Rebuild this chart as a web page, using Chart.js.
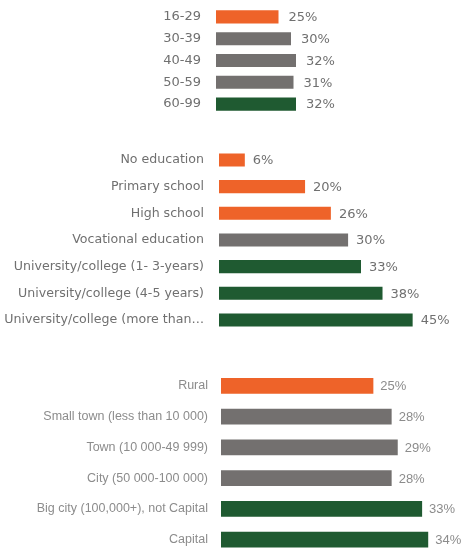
<!DOCTYPE html>
<html>
<head>
<meta charset="utf-8">
<script src="https://cdn.jsdelivr.net/npm/chart.js@4"></script>
<style>
  body { margin: 0; background: #fff; width: 475px; height: 555px; position: relative; overflow: hidden; }
  canvas { position: absolute; left: 0; }
</style>
</head>
<body>
<canvas id="age" width="475" height="125" style="top:0px"></canvas>
<canvas id="edu" width="475" height="205" style="top:135px"></canvas>
<canvas id="place" width="475" height="200" style="top:355px"></canvas>
<script>
// Age groups
const ageLabels = ['16-29', '30-39', '40-49', '50-59', '60-99'];
const ageValues = [25, 30, 32, 31, 32];
const ageColors = ['orange', 'grey', 'grey', 'grey', 'green'];

// Education
const eduLabels = ['No education', 'Primary school', 'High school', 'Vocational education',
    'University/college (1- 3-years)', 'University/college (4-5 years)', 'University/college (more than…'];
const eduValues = [6, 20, 26, 30, 33, 38, 45];
const eduColors = ['orange', 'orange', 'orange', 'grey', 'green', 'green', 'green'];

// Place of residence
const placeLabels = ['Rural', 'Small town (less than 10 000)', 'Town (10 000-49 999)',
    'City (50 000-100 000)', 'Big city (100,000+), not Capital', 'Capital'];
const placeValues = [25, 28, 29, 28, 33, 34];
const placeColors = ['orange', 'grey', 'grey', 'grey', 'green', 'green'];

const palette = { orange: '#ee6329', grey: '#73706f', green: '#1f5a31' };

// draws the "NN%" next to each bar
const valueLabels = {
    id: 'valueLabels',
    afterDatasetsDraw(chart) {
        const ctx = chart.ctx;
        const meta = chart.getDatasetMeta(0);
        const opts = chart.options.plugins.valueLabels;
        ctx.save();
        ctx.font = opts.font;
        ctx.fillStyle = opts.color;
        ctx.textBaseline = 'middle';
        meta.data.forEach((bar, i) => {
            ctx.fillText(chart.data.datasets[0].data[i] + '%', bar.x + opts.gap, bar.y + 1);
        });
        ctx.restore();
    }
};

function makeChart(id, labels, values, colors, cfg) {
    return new Chart(document.getElementById(id), {
        type: 'bar',
        data: {
            labels: labels,
            datasets: [{
                data: values,
                backgroundColor: colors.map(c => palette[c]),
                barPercentage: cfg.barPct,
                categoryPercentage: 1
            }]
        },
        options: {
            indexAxis: 'y',
            responsive: false,
            animation: false,
            layout: { padding: { top: cfg.top, bottom: cfg.bottom, left: 0, right: 475 - 466 } },
            scales: {
                x: { display: false, min: 0, max: cfg.max },
                y: {
                    grid: { display: false, tickLength: 8 },
                    border: { display: false },
                    ticks: {
                        color: cfg.labelColor,
                        padding: cfg.pad,
                        font: { family: cfg.family, size: cfg.fontSize }
                    },
                    afterFit(scale) {
                        scale.width = cfg.left;
                        scale.paddingTop = 0;
                        scale.paddingBottom = 0;
                    }
                }
            },
            plugins: {
                legend: { display: false },
                tooltip: { enabled: false },
                valueLabels: {
                    font: cfg.valueSize + 'px ' + cfg.family,
                    color: cfg.labelColor,
                    gap: cfg.gap
                }
            }
        },
        plugins: [valueLabels]
    });
}

const dejavu = '"DejaVu Sans", sans-serif';
const liberation = '"Liberation Sans", Arial, sans-serif';

makeChart('age', ageLabels, ageValues, ageColors,
    { left: 216, max: 100, top: 6, bottom: 125 - 115, barPct: 0.6, pad: 7, gap: 10,
      family: dejavu, fontSize: 13, valueSize: 13, labelColor: '#707070' });
makeChart('edu', eduLabels, eduValues, eduColors,
    { left: 219, max: 57.4, top: 146.6 - 135, bottom: 205 - (146.6 - 135) - 186.7, barPct: 0.49, pad: 7, gap: 8,
      family: dejavu, fontSize: 12.6, valueSize: 13, labelColor: '#707070' });
makeChart('place', placeLabels, placeValues, placeColors,
    { left: 221, max: 40.2, top: 370.4 - 355, bottom: 200 - (370.4 - 355) - 187, barPct: 0.51, pad: 5, gap: 7,
      family: liberation, fontSize: 12.5, valueSize: 13, labelColor: '#8c8c8c' });
</script>
</body>
</html>
